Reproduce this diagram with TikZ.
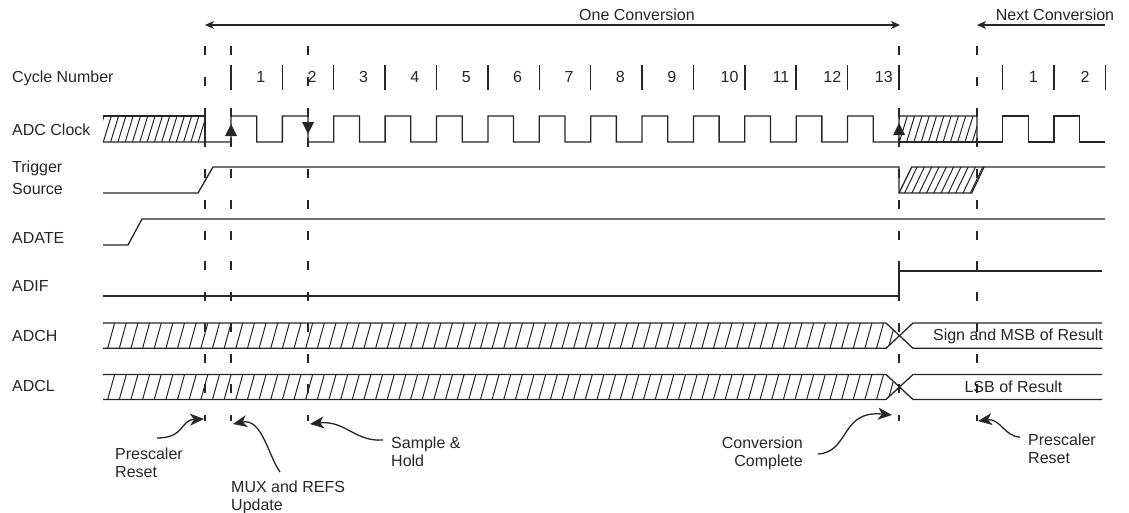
\documentclass[tikz,border=0pt]{standalone}
\usepackage{fontspec}
\setmainfont{Liberation Sans}
\usetikzlibrary{positioning, arrows.meta, calc}

\begin{document}
\begin{tikzpicture}[x=1pt, y=-1pt, font=\fontsize{16}{18.5}\selectfont]
                \tikzstyle{sig} = [draw=black!85, line width=1.3pt]
                \tikzstyle{hatch} = [draw=black!85, line width=1pt]
                \tikzstyle{guide} = [draw=black!85, line width=1.3pt, dash pattern=on 9pt off 21.75pt]
                \tikzstyle{tick} = [draw=black!85, line width=1.4pt]
                \tikzstyle{signame} = [anchor=base west, inner sep=0pt, text=black!85]
                \tikzstyle{note} = [inner sep=0pt, text=black!85]
                \tikzstyle{pointer} = [draw=black!85, line width=1.3pt, -{Stealth[length=14pt, width=12pt, inset=4pt]}]
                \tikzstyle{span} = [draw=black!85, line width=1.1pt]
                \tikzstyle{edgetip} = [fill=black!85]

                \useasboundingbox (0,0) rectangle (1129,512);

                % Guide lines (dashed)
                \foreach \g/\x in {pr1/205, mux/231, sh/308, cc/899, pr2/977} {
                    \coordinate (\g) at (\x,421);
                    \draw[guide] (\x,46) -- (\g);
                }

                % Conversion spans
                \node[note] (one) at (637,15) {One Conversion};
                \node[note] (next) at (1055,15) {Next Conversion};
                \coordinate (one_l) at (205,25);
                \coordinate (one_r) at (900,25);
                \coordinate (next_r) at (1105,25);
                \coordinate (next_l) at (977,25);
                \draw[span, {Stealth[length=9pt, width=8pt, inset=2.5pt]}-{Stealth[length=9pt, width=8pt, inset=2.5pt]}] (one_l) -- (one_r);
                \draw[span, -{Stealth[length=9pt, width=8pt, inset=2.5pt]}] (next_r) -- (next_l);

                % Signal names
                \node[signame] (l_cyc) at (12,82) {Cycle Number};
                \node[signame] (l_clk) at (12,135.5) {ADC Clock};
                \node[note, anchor=north west, align=left] (l_trg) at (12,161.2) {Trigger\\[2.8pt]Source};
                \node[signame] (l_adate) at (12,243.5) {ADATE};
                \node[signame] (l_adif) at (12,291.5) {ADIF};
                \node[signame] (l_adch) at (12,341.5) {ADCH};
                \node[signame] (l_adcl) at (12,391.5) {ADCL};

                % Cycle numbers
                \foreach \n in {0,...,13}
                    \draw[tick] ({231+\n*51.38},65) -- ++(0,25);
                \foreach \x in {1002.7,1054.1,1105.5}
                    \draw[tick] (\x,65) -- ++(0,25);
                \foreach \n in {1,...,13} {
                    \pgfmathsetmacro{\cx}{256.7+(\n-1)*51.38+(\n<10 ? 4 : 10.5)}
                    \node[note, anchor=base] (n\n) at (\cx,82) {\n};
                }
                \node[note, anchor=base] (nn1) at (1033.3,82) {1};
                \node[note, anchor=base] (nn2) at (1085,82) {2};

                % ADC Clock
                \begin{scope}
                    \clip (103,116) rectangle (205,142);
                    \foreach \x in {96,103.3,...,212} \draw[hatch] (\x,142) -- ++(8,-26);
                \end{scope}
                \begin{scope}
                    \clip (899,116) rectangle (977,142);
                    \foreach \x in {892,899.3,...,985} \draw[hatch] (\x,142) -- ++(8,-26);
                \end{scope}
                \draw[sig] (103,116) -- (205,116) -- (205,142);
                \draw[sig] (103,142) -- (231,142)
                    \foreach \k in {0,...,12} {
                        -- ({231+\k*51.38},116) -- ({256.69+\k*51.38},116)
                        -- ({256.69+\k*51.38},142) -- ({282.38+\k*51.38},142)}
                    -- (899,116) -- (977,116) -- (977,142);
                \draw[sig] (899,142) -- (1002.7,142) -- (1002.7,116) -- (1028.4,116)
                    -- (1028.4,142) -- (1054.1,142) -- (1054.1,116) -- (1079.8,116)
                    -- (1079.8,142) -- (1105,142);
                \fill[edgetip] (231,124) -- (225,136) -- (237,136) -- cycle;
                \fill[edgetip] (308,134) -- (302,122) -- (314,122) -- cycle;
                \fill[edgetip] (899,123) -- (893,135) -- (905,135) -- cycle;

                % Trigger Source
                \begin{scope}
                    \clip (899,193) -- (971.7,193) -- (984,167) -- (911.7,167) -- cycle;
                    \foreach \x in {890,897.3,...,990} \draw[hatch] (\x,193) -- ++(12.5,-26);
                \end{scope}
                \draw[sig] (103,193) -- (198,193) -- (213,167) -- (899,167) -- (899,193) -- (971.7,193) -- (984,167);
                \draw[sig] (899,193) -- (911.7,167) -- (1105,167);

                % ADATE
                \draw[sig] (103,245) -- (128,245) -- (142,219) -- (1105,219);

                % ADIF
                \draw[sig] (103,296) -- (899,296) -- (899,271) -- (1102,271);

                % ADCH and ADCL
                \foreach \top/\bot in {323/348.3, 374.5/399.5} {
                    \begin{scope}
                        \clip (103,\top) -- (886,\top) -- (899.5,{(\top+\bot)/2}) -- (886,\bot) -- (103,\bot) -- cycle;
                        \foreach \x in {96,107.65,...,905} \draw[hatch] (\x,\bot) -- ++(7,{\top-\bot});
                    \end{scope}
                    \draw[sig] (103,\top) -- (886,\top) -- (913,\bot) -- (1102,\bot);
                    \draw[sig] (103,\bot) -- (886,\bot) -- (913,\top) -- (1102,\top);
                }
                \node[note] (msb) at (1018,336) {Sign and MSB of Result};
                \node[note] (lsb) at (1013.5,387) {LSB of Result};

                % Notes below
                \node[note, anchor=north west, align=left] (prs_a) at (115,447.6) {Prescaler\\Reset};
                \node[note, anchor=north west, align=left] (muxref) at (231,480.2) {MUX and REFS\\Update};
                \node[note, anchor=north west, align=left] (samp) at (391,436.6) {Sample \&\\Hold};
                \node[note, anchor=north east, align=right] (conv) at (803,436.6) {Conversion\\Complete};
                \node[note, anchor=north west, align=left] (prs_b) at (1028,433.3) {Prescaler\\Reset};

                % Pointers
                \coordinate (prs_a_from) at (157,438);
                \coordinate (muxref_from) at (280,472);
                \coordinate (samp_from) at (383,440);
                \coordinate (conv_from) at (818,454);
                \coordinate (prs_b_from) at (1020,437);
                \draw[pointer] (prs_a_from) .. controls (185,438) and (180,420) .. (204,419);
                \draw[pointer] (muxref_from) .. controls (268,455) and (262,418) .. (233,424);
                \draw[pointer] (samp_from) .. controls (355,442) and (345,420) .. (310,424);
                \draw[pointer] (conv_from) .. controls (850,452) and (840,410) .. (892,415);
                \draw[pointer] (prs_b_from) .. controls (1005,437) and (1000,418) .. (978,421);
            \end{tikzpicture}
\end{document}
